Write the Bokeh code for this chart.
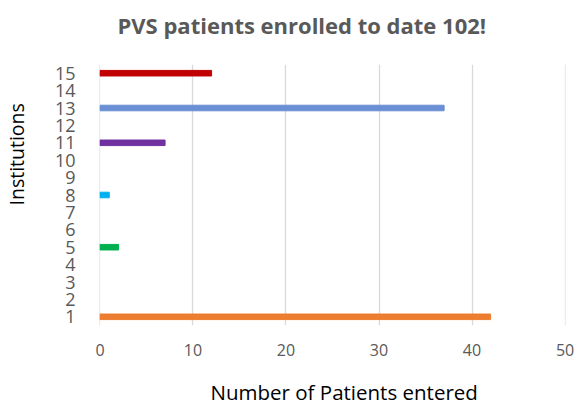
from bokeh.plotting import figure
from bokeh.models import Range1d, FixedTicker, Title, ColumnDataSource
from bokeh.embed import file_html
from bokeh.resources import INLINE

# Data
institutions = [1, 5, 8, 11, 13, 15]
patients = [42, 2, 1, 7, 37, 12]
colors = ["#ED7D31", "#00B050", "#00B0F0", "#7030A0", "#6A8FD4", "#C00000"]
y_ticks = list(range(1, 16))
x_ticks = [0, 10, 20, 30, 40, 50]
title_text = "PVS patients enrolled to date 102!"
x_label = "Number of Patients entered"
y_label = "Institutions"

FONT = "Open Sans"
GRAY = "#595959"

p = figure(width=576, height=405, output_backend="svg", toolbar_location=None,
           title=None,
           x_range=Range1d(-0.05, 50.05), y_range=Range1d(0.5, 15.5),
           min_border_left=99, min_border_right=11, min_border_top=64, min_border_bottom=80)

src = ColumnDataSource(dict(y=institutions, right=patients, color=colors))
p.hbar(y="y", left=0, right="right", height=0.32, color="color", source=src)

p.outline_line_color = None
p.background_fill_color = "white"
p.border_fill_color = "white"

# grids
p.ygrid.grid_line_color = None
p.xgrid.grid_line_color = "#D9D9D9"
p.xgrid.grid_line_width = 1.3
p.xaxis.ticker = FixedTicker(ticks=x_ticks)
p.yaxis.ticker = FixedTicker(ticks=y_ticks)

for ax in (p.xaxis, p.yaxis):
    ax.axis_line_color = None
    ax.major_tick_line_color = None
    ax.minor_tick_line_color = None
    ax.major_label_text_font = FONT
    ax.major_label_text_color = GRAY

p.yaxis.major_label_text_font_size = "18px"
p.yaxis.major_label_standoff = 18
p.xaxis.major_label_text_font_size = "16px"
p.xaxis.major_label_standoff = 12


def spacer(size):
    return Title(text=" ", text_font_size="1px", standoff=size)


# top: spacer next to the frame, then the main title
p.add_layout(spacer(22), "above")
p.add_layout(Title(text=title_text, align="left", offset=18, standoff=0,
                   text_font=FONT, text_font_size="22px", text_font_style="bold",
                   text_color=GRAY), "above")

# bottom: axis, spacer, axis title
p.add_layout(spacer(14), "below")
p.add_layout(Title(text=x_label, align="left", offset=111, standoff=0,
                   text_font=FONT, text_font_size="20.5px", text_font_style="normal",
                   text_color="black"), "below")

# left: axis, spacer, axis title
p.add_layout(spacer(19), "left")
p.add_layout(Title(text=y_label, align="left", offset=120, standoff=0,
                   text_font=FONT, text_font_size="19.5px", text_font_style="normal",
                   text_color="black"), "left")

open("out.html", "w").write(file_html(p, INLINE))
